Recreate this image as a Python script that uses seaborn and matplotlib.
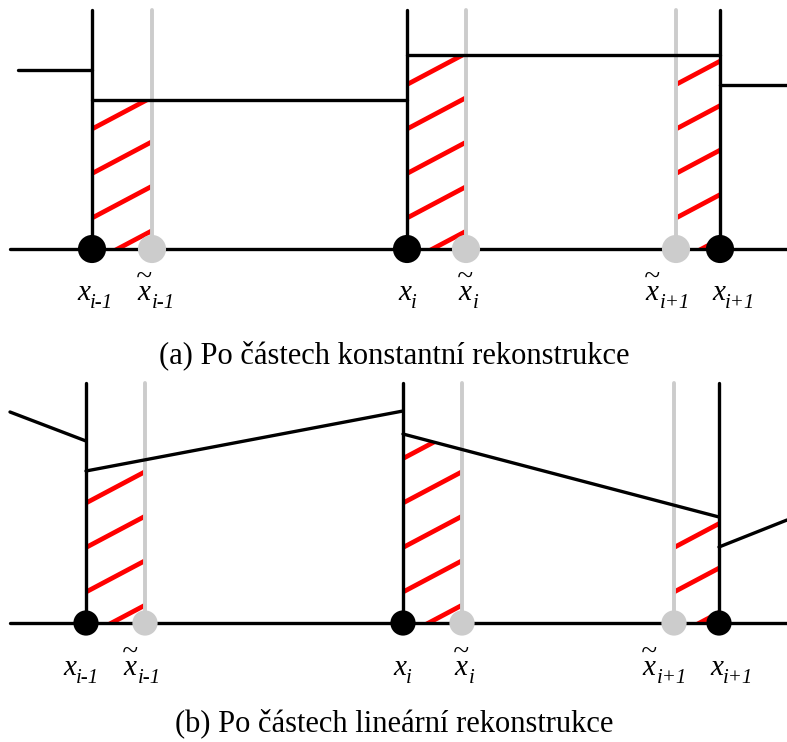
import matplotlib
matplotlib.use("Agg")
import matplotlib.pyplot as plt
from matplotlib.patches import Polygon
import numpy as np
import pandas as pd
import seaborn as sns

# ---------------------------------------------------------------------------
# Data (horizontal coordinate along the axis, values = height above the axis)
# ---------------------------------------------------------------------------
# (a) piecewise constant reconstruction
edges_a = [92, 407, 720]            # cell interfaces x_{i-1}, x_i, x_{i+1}
points_a = [152, 466, 676]          # shifted points x~_{i-1}, x~_i, x~_{i+1}
const_start = [18, 92, 407, 720]
const_end = [92, 407, 720, 787]
const_value = [179, 149, 194, 164]

# (b) piecewise linear reconstruction
edges_b = [86, 403, 719]
points_b = [145, 462, 674]
lin_start = [10, 86, 403, 719]
lin_end = [86, 403, 719, 787]
lin_left = [211, 152, 189, 76]
lin_right = [182, 212, 106, 103]

# hatched strips: (from, to, index of the reconstruction segment above them)
strips_a = [(edges_a[0], points_a[0], 1), (edges_a[1], points_a[1], 2),
            (points_a[2], edges_a[2], 2)]
strips_b = [(edges_b[0], points_b[0], 1), (edges_b[1], points_b[1], 2),
            (points_b[2], edges_b[2], 2)]

# node labels in the order x_{i-1}, x~_{i-1}, x_i, x~_i, x~_{i+1}, x_{i+1}
label_tilde = [False, True, False, True, True, False]
label_sub = ["i-1", "i-1", "i", "i", "i+1", "i+1"]
captions = ["(a) Po částech konstantní rekonstrukce",
            "(b) Po částech lineární rekonstrukce"]

# ---------------------------------------------------------------------------
# Style
# ---------------------------------------------------------------------------
sns.set_theme(style="white")
plt.rcParams["font.family"] = ["Liberation Serif", "DejaVu Serif"]
plt.rcParams["text.color"] = "black"

BLACK = "#000000"
GRAY = "#cccccc"
RED = "#ff0000"
LW = 2.4
LABEL_PT = 21
DPI = 100
# descent of the label font below its baseline, in pixels
LABEL_DESCENT = 0.217 * LABEL_PT * DPI / 72

fig = plt.figure(figsize=(7.87, 7.42), dpi=DPI)
ax_a = fig.add_axes([0, 0.5, 1, 0.5])
ax_b = fig.add_axes([0, 0.0, 1, 0.5])
ax_a.set_xlim(0, 787)
ax_a.set_ylim(-122, 249)
ax_b.set_xlim(0, 787)
ax_b.set_ylim(-119, 252)


def segments_frame(x0, x1, y0, y1):
    rows = []
    for k, (a, b, ya, yb) in enumerate(zip(x0, x1, y0, y1)):
        rows.append({"x": a, "y": ya, "seg": k})
        rows.append({"x": b, "y": yb, "seg": k})
    return pd.DataFrame(rows)


def node_label(ax, x, y, tilde, sub):
    text = "~\nx" if tilde else "x"
    base = ax.text(x, y - LABEL_DESCENT, text, fontsize=LABEL_PT,
                   style="italic", ha="left", va="bottom",
                   multialignment="center", linespacing=0.44)
    ax.annotate(sub, xy=(1, y - 8), xycoords=(base, "data"),
                fontsize=15, style="italic", ha="left", va="baseline")


def draw_panel(ax, edges, points, seg_df, strips, top, dot_size,
               label_x, label_y, caption, caption_y):
    # hatched strips between x_j and x~_j under the reconstruction
    for xa, xb, k in strips:
        seg = seg_df[seg_df["seg"] == k]
        sx, sy = seg["x"].to_numpy(), seg["y"].to_numpy()
        ya = np.interp(xa, sx, sy)
        yb = np.interp(xb, sx, sy)
        clip = Polygon([(xa, 0), (xa, ya), (xb, yb), (xb, 0)], closed=True,
                       facecolor="none", edgecolor="none")
        ax.add_patch(clip)
        for j in range(-2, 8):
            y0 = 31 + 44.5 * j
            hx = np.array([xa - 10, xb + 10])
            hy = y0 + 0.53 * (hx - xa)
            ln, = ax.plot(hx, hy, color=RED, lw=3.4, solid_capstyle="butt",
                          zorder=1)
            ln.set_clip_path(clip)

    # the axis
    ax.plot([10, 787], [0, 0], color=BLACK, lw=LW, zorder=2)
    # cell interfaces and shifted points
    for x in edges:
        ax.plot([x, x], [0, top], color=BLACK, lw=LW, zorder=2)
    for x in points:
        ax.plot([x, x], [0, top], color=GRAY, lw=2.8, zorder=2)

    # reconstruction
    sns.lineplot(data=seg_df, x="x", y="y", units="seg", estimator=None,
                 sort=False, color=BLACK, lw=LW, ax=ax, legend=False,
                 zorder=2)

    # nodes
    nodes = pd.DataFrame({"x": points + edges, "y": 0,
                          "kind": ["p"] * len(points) + ["e"] * len(edges)})
    sns.scatterplot(data=nodes, x="x", y="y", hue="kind",
                    palette={"p": GRAY, "e": BLACK}, s=dot_size,
                    linewidth=0, ax=ax, legend=False, zorder=3)

    for tilde, sub, lx in zip(label_tilde, label_sub, label_x):
        node_label(ax, lx, label_y, tilde, sub)
    ax.text(394, caption_y, caption, fontsize=22, ha="center",
            va="baseline")
    ax.set_axis_off()


seg_a = segments_frame(const_start, const_end, const_value, const_value)
seg_b = segments_frame(lin_start, lin_end, lin_left, lin_right)

draw_panel(ax_a, edges_a, points_a, seg_a, strips_a, 239, 410,
           [77, 136, 398, 457, 644, 712], -51, captions[0], -114)
draw_panel(ax_b, edges_b, points_b, seg_b, strips_b, 240, 330,
           [63, 122, 393, 453, 641, 710], -52, captions[1], -108)

fig.savefig("out.png", dpi=DPI)
